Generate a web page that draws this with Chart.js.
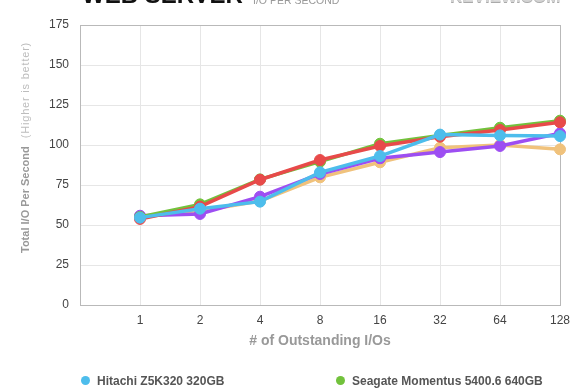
<!DOCTYPE html>
<html>
<head>
<meta charset="utf-8">
<script src="https://cdn.jsdelivr.net/npm/chart.js@4.4.0/dist/chart.umd.min.js"></script>
<style>
  body { margin: 0; background: #fff; font-family: "Liberation Sans", Arial, sans-serif; }
  #wrap { position: relative; width: 580px; height: 390px; overflow: hidden; }
  #chart { position: absolute; left: 0; top: 0; }
  .title { position: absolute; left: 82px; top: -17px; font: bold 24px/24px "Liberation Sans", Arial, sans-serif; color: #111; white-space: nowrap; }
  .sub { position: absolute; left: 253px; top: -6px; font: 10.5px/12px "Liberation Sans", Arial, sans-serif; color: #999; white-space: nowrap; }
  .logo { position: absolute; left: 450px; top: -12px; font: bold 17px/18px "Liberation Sans", Arial, sans-serif; color: #d4d4d4; text-shadow: 0 1px 0 #aaa; white-space: nowrap; }
  .legend { position: absolute; top: 372px; font: bold 12px/18px "Liberation Sans", Arial, sans-serif; color: #555; white-space: nowrap; }
  .legend .dot { position: absolute; width: 9px; height: 9px; border-radius: 50%; left: -16px; top: 4px; }
</style>
</head>
<body>
<div id="wrap">
  <canvas id="chart" width="580" height="390"></canvas>
  <div class="title">WEB SERVER</div>
  <div class="sub">I/O PER SECOND</div>
  <div class="logo">REVIEW.COM</div>
  <div id="legend"></div>
</div>
<script>
// outstanding I/O queue depths (first slot left empty like the original)
const categories = ["", "1", "2", "4", "8", "16", "32", "64", "128"];

const seriesNames = [
  "Hitachi Z5K320 320GB",
  "Seagate Momentus 5400.6 640GB",
  "WD Scorpio Blue 500GB",
  "Toshiba MK5065GSX 500GB",
  "Samsung SpinPoint M7 500GB"
];
const seriesColors = ["#4dbdec", "#72c23c", "#e84a4a", "#9d4ef2", "#f0c27c"];

const hitachi = [null, 54.6, 60.2, 64.6, 82.9, 93.1, 106.5, 106.0, 105.6];
const seagate = [null, 55.0, 62.9, 78.5, 89.6, 100.8, 106.0, 110.8, 115.2];
const redDrive = [null, 53.8, 61.5, 78.3, 90.6, 99.4, 105.2, 109.4, 114.2];
const purpleDrive = [null, 55.8, 56.9, 67.7, 81.9, 91.7, 95.6, 99.4, 107.3];
const orangeDrive = [null, 55.0, 58.7, 65.0, 79.8, 89.2, 98.3, 100.0, 97.3];

const yTicks = [0, 25, 50, 75, 100, 125, 150, 175];

const seriesData = [hitachi, seagate, redDrive, purpleDrive, orangeDrive];
// draw order: blue on top, then red, green, purple, orange underneath
const drawOrder = [0, 2, 1, 3, 4];

const FONT = "'Liberation Sans', Arial, sans-serif";
const lightGrid = "#e6e6e6";
const borderGrid = "#b9b9b9";

const datasets = seriesData.map((d, i) => ({
  label: seriesNames[i],
  data: d,
  borderColor: seriesColors[i],
  backgroundColor: seriesColors[i],
  pointBackgroundColor: seriesColors[i],
  pointBorderColor: seriesColors[i],
  borderWidth: 3.5,
  pointRadius: 5.5,
  pointBorderWidth: 1,
  tension: 0,
  order: drawOrder[i]
}));

// axis titles drawn by hand (two tone y title)
const axisTitles = {
  id: "axisTitles",
  afterDraw(chart) {
    const ctx = chart.ctx;
    const area = chart.chartArea;
    ctx.save();
    ctx.fillStyle = "#999";
    ctx.font = "bold 14px " + FONT;
    ctx.textAlign = "center";
    ctx.textBaseline = "middle";
    ctx.fillText("# of Outstanding I/Os", (area.left + area.right) / 2, 341.5);

    ctx.translate(26, 253);
    ctx.rotate(-Math.PI / 2);
    ctx.textAlign = "left";
    ctx.font = "bold 11px " + FONT;
    const main = "Total I/O Per Second";
    ctx.fillText(main, 0, 0);
    const w = ctx.measureText(main).width;
    ctx.fillStyle = "#bdbdbd";
    ctx.font = "11px " + FONT;
    ctx.letterSpacing = "0.8px";
    ctx.fillText("(Higher is better)", w + 8, 0);
    ctx.restore();
  }
};

new Chart(document.getElementById("chart").getContext("2d"), {
  type: "line",
  data: { labels: categories, datasets: datasets },
  options: {
    responsive: false,
    animation: false,
    layout: { padding: { top: 25, right: 20, bottom: 30, left: 0 } },
    plugins: { legend: { display: false }, tooltip: { enabled: false } },
    scales: {
      x: {
        afterFit: (s) => { s.height = 55; },
        grid: {
          color: (c) => (c.index === categories.length - 1 ? borderGrid : lightGrid),
          drawTicks: false
        },
        border: { color: borderGrid },
        ticks: { color: "#444", font: { family: FONT, size: 12 }, padding: 8, maxRotation: 0, autoSkip: false }
      },
      y: {
        min: yTicks[0],
        max: yTicks[yTicks.length - 1],
        afterFit: (s) => { s.width = 80; },
        afterBuildTicks: (s) => { s.ticks = yTicks.map((v) => ({ value: v })); },
        grid: {
          color: (c) => (c.tick && c.tick.value === 175 ? borderGrid : lightGrid),
          drawTicks: false
        },
        border: { color: borderGrid },
        ticks: { color: "#444", font: { family: FONT, size: 12 }, padding: 11 }
      }
    }
  },
  plugins: [axisTitles]
});

// html legend, two columns, only the first row fits in the window
const legendX = [97, 352];
const legend = document.getElementById("legend");
seriesNames.forEach((name, i) => {
  const item = document.createElement("div");
  item.className = "legend";
  item.style.left = legendX[i % 2] + "px";
  item.style.top = (372 + Math.floor(i / 2) * 26) + "px";
  item.innerHTML = '<span class="dot" style="background:' + seriesColors[i] + '"></span>' + name;
  legend.appendChild(item);
});
</script>
</body>
</html>
